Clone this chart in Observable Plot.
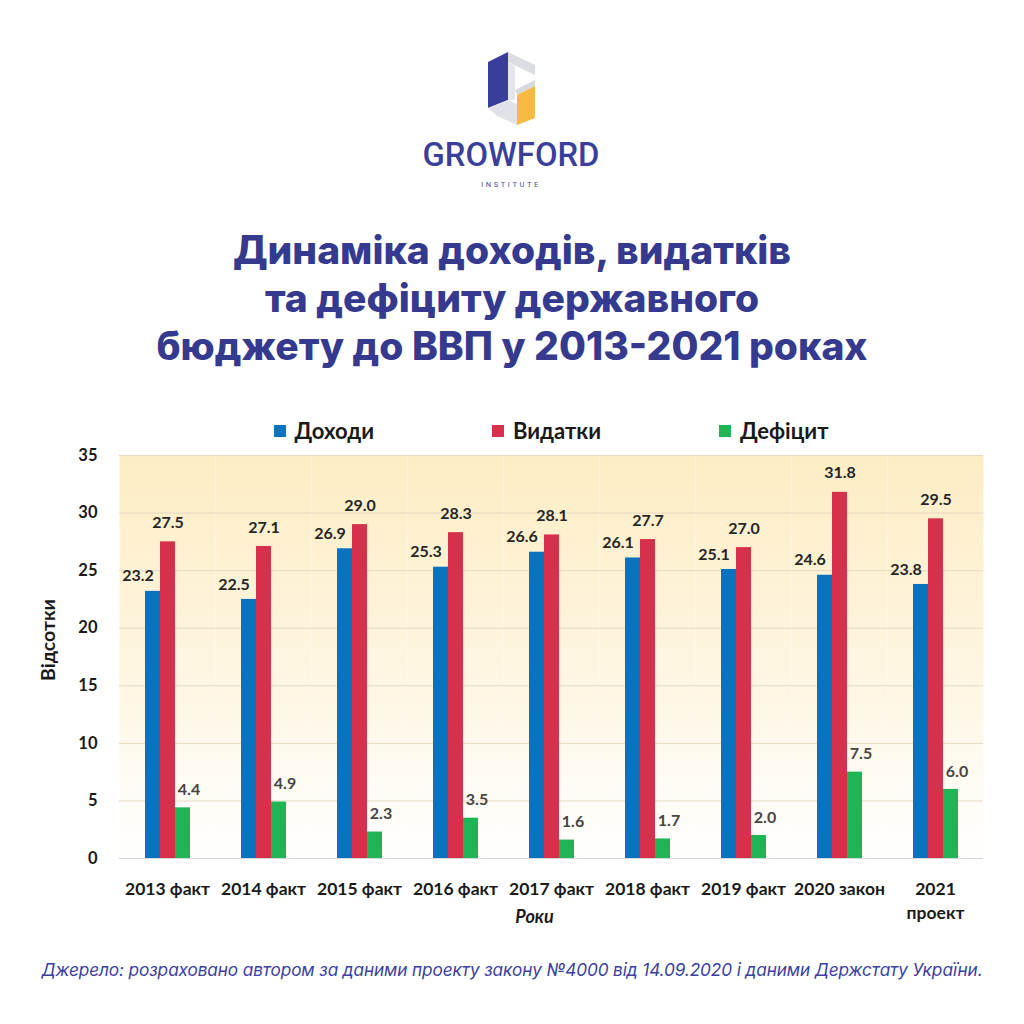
<!DOCTYPE html>
<html lang="uk">
<head>
<meta charset="utf-8">
<title>Динаміка доходів, видатків та дефіциту державного бюджету до ВВП у 2013-2021 роках</title>
<script src="https://cdn.jsdelivr.net/npm/d3@7"></script>
<script src="https://cdn.jsdelivr.net/npm/@observablehq/plot@0.6"></script>
<style>
  html, body { margin: 0; padding: 0; background: #ffffff; }
  #page { position: relative; width: 1024px; height: 1024px; overflow: hidden; background: #ffffff; }
  #logo { position: absolute; left: 0; top: 0; width: 1024px; height: 200px; }
  #title {
    position: absolute; left: 0; top: 226px; width: 1024px; margin: 0;
    text-align: center; font-family: Inter, "Noto Sans", sans-serif; font-weight: 800;
    font-size: 39px; line-height: 48px; color: #353a8e; letter-spacing: 0px;
  }
  #legend {
    position: absolute; left: 115px; top: 417px; width: 872px;
    display: flex; justify-content: center; gap: 118px;
    font-family: Lato, "Open Sans", sans-serif; font-size: 22px; font-weight: 700; color: #1a1a1a;
  }
  #legend .item { display: flex; align-items: center; gap: 9px; }
  #legend .sw { width: 12px; height: 12px; display: inline-block; }
  #chart { position: absolute; left: 0; top: 440px; }
  #source {
    position: absolute; left: 0; top: 959px; width: 1024px; text-align: center;
    font-family: Inter, "Noto Sans", sans-serif; font-style: italic; font-size: 17.2px;
    color: #3b3f9f; letter-spacing: -0.1px;
  }
</style>
</head>
<body>
<div id="page">
  <svg id="logo" viewBox="0 0 1024 200" xmlns="http://www.w3.org/2000/svg">
    <!-- Growford mark -->
    <polygon points="508,52 535,65 535,75 508,62" fill="#dcdde3"/>
    <polygon points="488,62 508,52 508,100 488,108" fill="#3a3d9a"/>
    <polygon points="508,62 515,66 515,100 508,100" fill="#e4e5ea"/>
    <polygon points="515,90 535,80 535,86 517,95" fill="#d8d9df"/>
    <polygon points="517,95 535,86 535,118 517,125" fill="#f6b942"/>
    <polygon points="488,108 508,100 517,104 517,125 497,116" fill="#e1e2e7"/>
    <text x="511" y="166" text-anchor="middle" font-family="Roboto, sans-serif" font-weight="500"
          font-size="34" fill="#3b3f9c" textLength="177" lengthAdjust="spacingAndGlyphs">GROWFORD</text>
    <text x="511" y="187" text-anchor="middle" font-family="Roboto, sans-serif" font-size="7.5"
          fill="#4a4d9e" letter-spacing="2.6">INSTITUTE</text>
  </svg>
  <h1 id="title">Динаміка доходів, видатків<br>та дефіциту державного<br>бюджету до ВВП у 2013-2021 роках</h1>
  <div id="legend"></div>
  <div id="chart"></div>
  <div id="source">Джерело: розраховано автором за даними проекту закону №4000 від 14.09.2020 і даними Держстату України.</div>
</div>
<script>
// Budget indicators, % of GDP
const categories = ["2013 факт", "2014 факт", "2015 факт", "2016 факт", "2017 факт",
                    "2018 факт", "2019 факт", "2020 закон", "2021\nпроект"];
const series = ["Доходи", "Видатки", "Дефіцит"];
const revenues     = [23.2, 22.5, 26.9, 25.3, 26.6, 26.1, 25.1, 24.6, 23.8];
const expenditures = [27.5, 27.1, 29.0, 28.3, 28.1, 27.7, 27.0, 31.8, 29.5];
const deficit      = [4.4, 4.9, 2.3, 3.5, 1.6, 1.7, 2.0, 7.5, 6.0];
const colors = ["#0b72bd", "#d6304c", "#1fb555"];
const yTicks = [0, 5, 10, 15, 20, 25, 30, 35];

const valuesBySeries = [revenues, expenditures, deficit];
const rows = categories.flatMap((category, i) =>
  series.map((s, j) => ({category, series: s, value: valuesBySeries[j][i]}))
);

// Legend
const legend = d3.select("#legend");
series.forEach((s, j) => {
  const item = legend.append("div").attr("class", "item");
  item.append("span").attr("class", "sw").style("background", colors[j]);
  item.append("span").text(s);
});

const labelFont = {fontFamily: "Lato, 'Open Sans', sans-serif", fontSize: 16, fontWeight: 700};
const fmt = d => d.value.toFixed(1);
const bySeries = s => rows.filter(d => d.series === s);

const chart = Plot.plot({
  width: 1024,
  height: 500,
  marginLeft: 115,
  marginRight: 37,
  marginTop: 15,
  marginBottom: 82,
  style: {fontFamily: "Lato, 'Open Sans', sans-serif", fontSize: "16px", fontWeight: 700, color: "#1a1a1a", background: "transparent"},
  fx: {domain: categories, padding: 0, label: null},
  x: {domain: series, paddingInner: 0, paddingOuter: 1.63, axis: null},
  y: {domain: [0, 35], label: null},
  color: {domain: series, range: colors},
  marks: [
    Plot.frame({fill: "url(#plotBg)", stroke: null}),
    Plot.gridY(yTicks.slice(1), {stroke: "#e6d9c2", strokeOpacity: 1, strokeWidth: 1}),
    Plot.ruleY([0], {stroke: "#d6d6d6", strokeWidth: 1.2}),
    Plot.barY(rows, {fx: "category", x: "series", y: "value", fill: "series"}),
    Plot.text(bySeries("Доходи"), {fx: "category", x: "series", y: "value", text: fmt,
      dx: -15, dy: -15, fill: "#262626", ...labelFont}),
    Plot.text(bySeries("Видатки"), {fx: "category", x: "series", y: "value", text: fmt,
      dx: 0, dy: -19, fill: "#262626", ...labelFont}),
    Plot.text(bySeries("Дефіцит"), {fx: "category", x: "series", y: "value", text: fmt,
      dx: 6, dy: -18, fill: "#454545", ...labelFont}),
    Plot.axisY({ticks: yTicks, tickSize: 0, tickPadding: 22, fontSize: 16.5, label: "Відсотки", labelArrow: "none",
      labelAnchor: "center", labelOffset: 78, fill: "#1a1a1a"}),
    Plot.axisFx({anchor: "bottom", tickSize: 0, tickPadding: 19, fontSize: 17.5, label: "Роки", labelArrow: "none",
      labelAnchor: "center", labelOffset: 64, lineHeight: 1.4, fill: "#1a1a1a"})
  ]
});

// Vertical fill of the plotting area, from pale amber at the top to white at the baseline
const svg = d3.select(chart);
const grad = svg.insert("defs", ":first-child")
  .append("linearGradient").attr("id", "plotBg")
  .attr("x1", 0).attr("y1", 0).attr("x2", 0).attr("y2", 1);
grad.append("stop").attr("offset", "0%").attr("stop-color", "#fdedc4");
grad.append("stop").attr("offset", "55%").attr("stop-color", "#fef6e2");
grad.append("stop").attr("offset", "100%").attr("stop-color", "#ffffff");

// Axis titles: italic "Роки", larger "Відсотки", both nudged along their reading direction
svg.selectAll('g[aria-label="fx-axis label"] text')
  .attr("font-style", "italic").attr("font-size", 18).attr("dx", -17);
svg.selectAll('g[aria-label="y-axis label"] text')
  .attr("font-size", 19.5).attr("dx", 17);

document.getElementById("chart").appendChild(chart);
</script>
</body>
</html>
